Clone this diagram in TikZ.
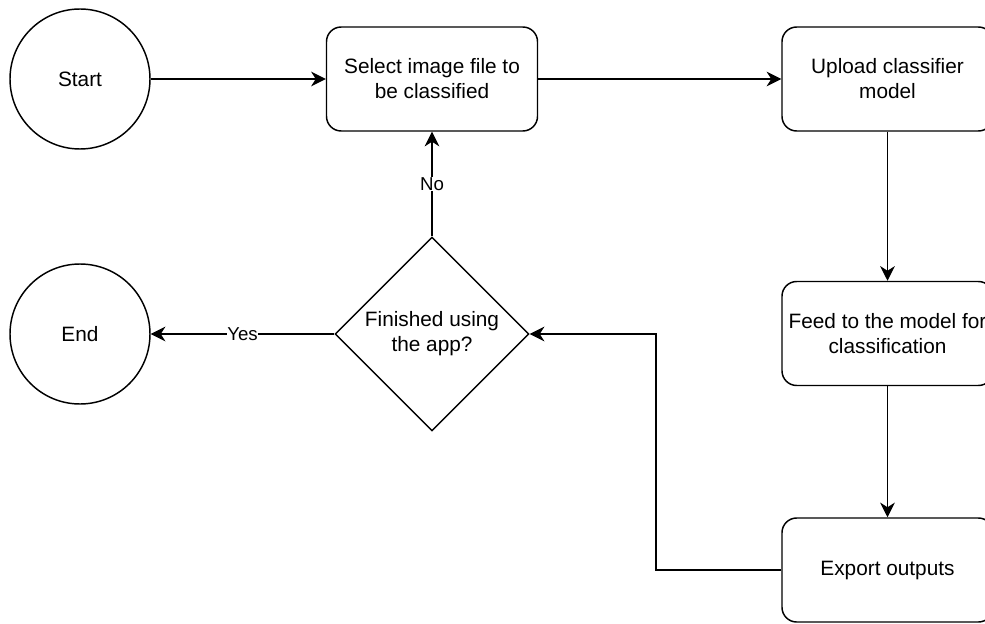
\documentclass[tikz,border=0pt]{standalone}
\usepackage{fontspec}
\setmainfont{Liberation Sans}
\usetikzlibrary{shapes.geometric,arrows.meta}
\begin{document}
\begin{tikzpicture}[x=0.75pt,y=-0.75pt,
  every node/.style={font=\fontsize{15.6pt}{18.75pt}\selectfont, text=black},
  proc/.style={draw, line width=1.1pt, rounded corners=11pt, minimum width=158.25pt, minimum height=78pt, inner sep=0pt, align=center},
  term/.style={draw, line width=1.1pt, circle, minimum size=105pt, inner sep=0pt},
  decis/.style={draw, line width=1.1pt, diamond, shape aspect=1, minimum width=145.5pt, minimum height=145.5pt, inner sep=0pt, align=center},
  arr/.style={line width=1.1pt, -{Stealth[length=11pt,width=11pt,inset=3.5pt]}},
  lbl/.style={font=\fontsize{14pt}{16pt}\selectfont, fill=white, inner sep=0.5pt}
]
\path[use as bounding box, clip] (0,0) rectangle (985,624);
\node[term] (start) at (80,79) {Start};
\node[term] (end) at (80,334) {End};
\node[proc] (select) at (432,79) {Select image file to\\be classified};
\node[proc] (upload) at (887.5,79) {Upload classifier\\model};
\node[proc] (feed) at (887.5,333.5) {Feed to the model for\\classification};
\node[proc] (export) at (887.5,570) {Export outputs};
\node[decis] (dec) at (432,334) {Finished using\\the app?};
\coordinate (bend) at (656,570);
\draw[arr] (start) -- (select);
\draw[arr] (select) -- (upload);
\draw[arr] (upload) -- (feed);
\draw[arr] (feed) -- (export);
\draw[arr] (export.west) -- (bend) |- (dec.east);
\draw[arr] (dec.north) -- node[lbl] {No} (select.south);
\draw[arr] (dec.west) -- node[lbl] {Yes} (end.east);
\end{tikzpicture}
\end{document}
